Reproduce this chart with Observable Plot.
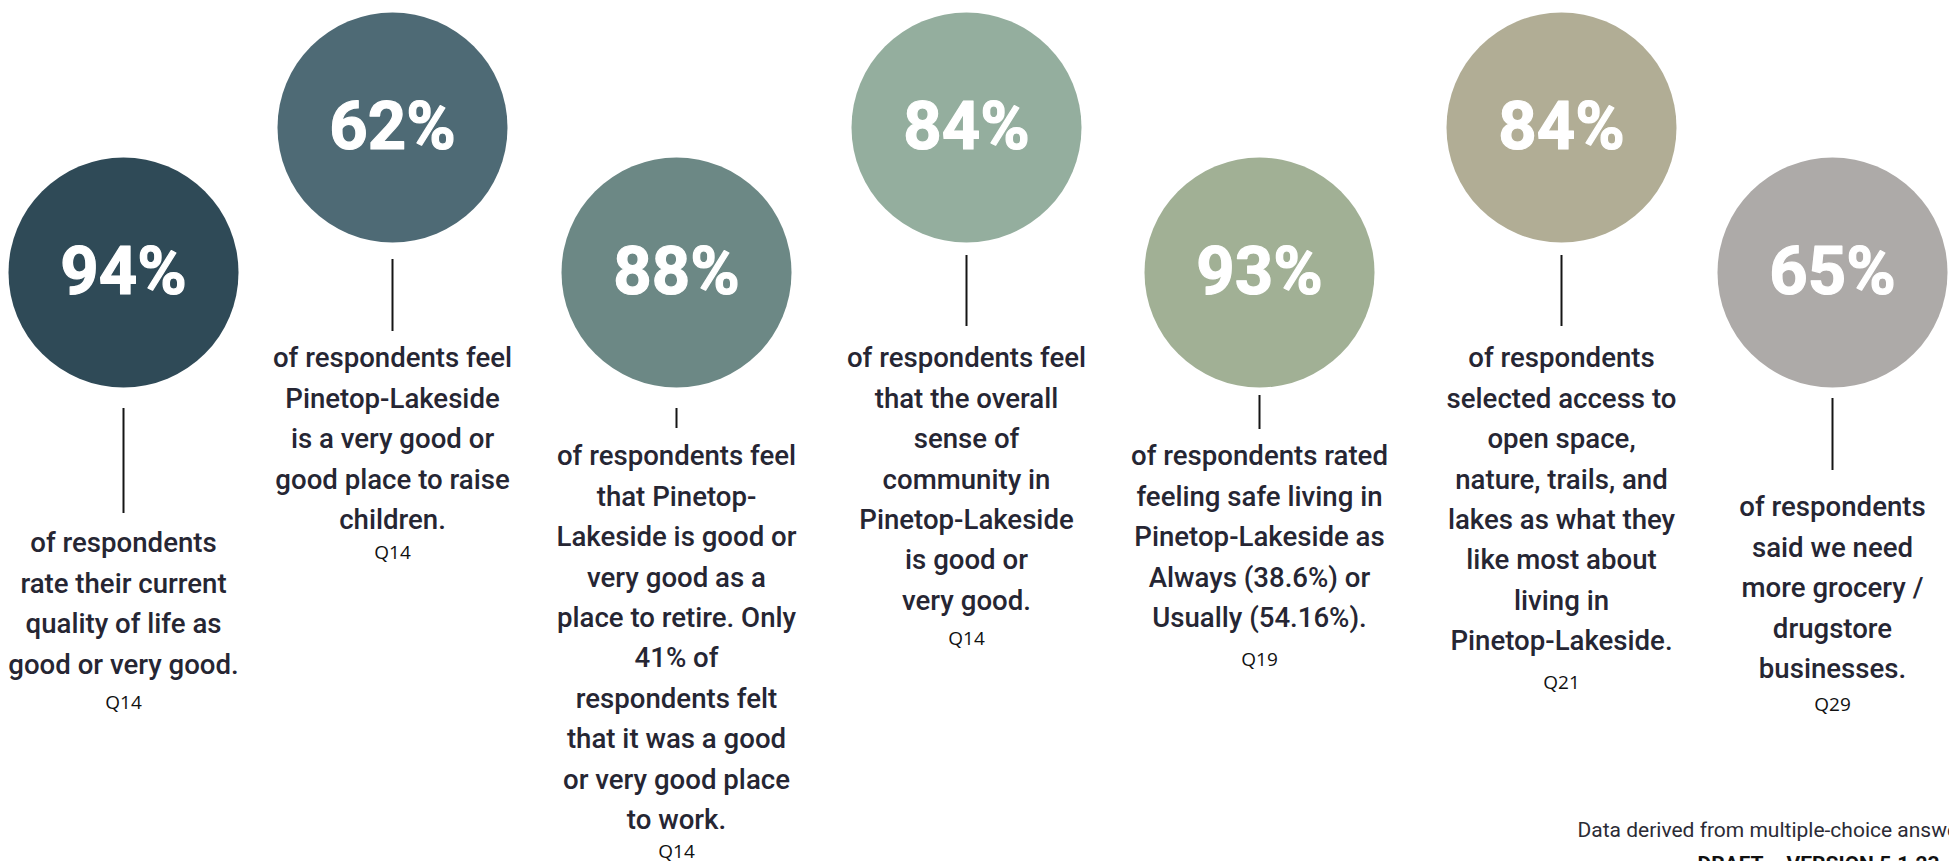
<!DOCTYPE html>
<html>
<head>
<meta charset="utf-8">
<script src="https://cdn.jsdelivr.net/npm/d3@7"></script>
<script src="https://cdn.jsdelivr.net/npm/@observablehq/plot@0.6"></script>
<style>
  html, body { margin: 0; padding: 0; background: #ffffff; overflow: hidden; }
  #chart { position: relative; width: 1949px; height: 861px; overflow: hidden; background: #ffffff; }
  #chart svg { display: block; }
</style>
</head>
<body>
<div id="chart"></div>
<script>
// ---------- DATA ----------
const percents = ["94%", "62%", "88%", "84%", "93%", "84%", "65%"];
const questions = ["Q14", "Q14", "Q14", "Q14", "Q19", "Q21", "Q29"];
const descriptions = [
  ["of respondents", "rate their current", "quality of life as", "good or very good."],
  ["of respondents feel", "Pinetop-Lakeside", "is a very good or", "good place to raise", "children."],
  ["of respondents feel", "that Pinetop-", "Lakeside is good or", "very good as a", "place to retire. Only", "41% of", "respondents felt", "that it was a good", "or very good place", "to work."],
  ["of respondents feel", "that the overall", "sense of", "community in", "Pinetop-Lakeside", "is good or", "very good."],
  ["of respondents rated", "feeling safe living in", "Pinetop-Lakeside as", "Always (38.6%) or", "Usually (54.16%)."],
  ["of respondents", "selected access to", "open space,", "nature, trails, and", "lakes as what they", "like most about", "living in", "Pinetop-Lakeside."],
  ["of respondents", "said we need", "more grocery /", "drugstore", "businesses."]
];
const footnote = "Data derived from multiple-choice answers.";
const draftLabel = "DRAFT \u2013 VERSION 5.1.23";

// ---------- LAYOUT (design placement, separate from data) ----------
const W = 1949, H = 861;
const layout = {
  colX: [123, 392, 676, 966, 1259, 1561, 1832],
  rowY: [272, 127],              // circle centre: low row, high row
  radius: 115,
  stems: [[408, 513], [259, 331], [408, 428], [255, 326], [395, 429], [255, 326], [398, 470]],
  textTop: [543, 358, 456, 358, 456, 358, 507],
  lineStep: 40.4,
  qY: [702, 552, 851, 638, 659, 682, 704],
  footX: 1577, footY: 830, draftX: 1697, draftY: 864
};
const palette = ["#2f4a57", "#4e6a75", "#6c8885", "#94ae9e", "#a1b095", "#b1ad95", "#adaaa8"];

const items = percents.map((p, i) => ({
  pct: p,
  q: questions[i],
  color: palette[i],
  x: layout.colX[i],
  cy: layout.rowY[i % 2],
  s1: layout.stems[i][0],
  s2: layout.stems[i][1],
  qy: layout.qY[i]
}));
const lines = descriptions.flatMap((ls, i) =>
  ls.map((t, k) => ({ text: t, x: layout.colX[i], y: layout.textTop[i] + k * layout.lineStep }))
);
const notes = [
  { text: footnote, x: layout.footX, y: layout.footY },
  { text: draftLabel, x: layout.draftX, y: layout.draftY }
];

const chart = Plot.plot({
  width: W,
  height: H,
  margin: 0,
  x: { type: "linear", domain: [0, W], range: [0, W], axis: null },
  y: { type: "linear", domain: [0, H], range: [0, H], axis: null },
  color: { type: "identity" },
  style: { background: "#ffffff", overflow: "hidden" },
  marks: [
    Plot.dot(items, { x: "x", y: "cy", r: layout.radius, fill: "color", stroke: null }),
    Plot.text(items, {
      x: "x", y: "cy", text: "pct", fill: "#ffffff", stroke: "#ffffff", strokeWidth: 1.2,
      strokeLinejoin: "round",
      fontSize: 67, fontWeight: 700, fontFamily: "Roboto, 'DejaVu Sans', sans-serif",
      textAnchor: "middle", lineAnchor: "middle"
    }),
    Plot.ruleX(items, { x: "x", y1: "s1", y2: "s2", stroke: "#151515", strokeWidth: 2 }),
    Plot.text(lines, {
      x: "x", y: "y", text: "text", fill: "#262633",
      fontSize: 27.6, fontWeight: 500, fontFamily: "Roboto, 'Noto Sans', sans-serif",
      textAnchor: "middle", lineAnchor: "middle"
    }),
    Plot.text(items, {
      x: "x", y: "qy", text: "q", fill: "#111111",
      fontSize: 19, fontWeight: 400, fontFamily: "'Open Sans', sans-serif",
      textAnchor: "middle", lineAnchor: "middle"
    }),
    Plot.text(notes.slice(0, 1), {
      x: "x", y: "y", text: "text", fill: "#2b2b35",
      fontSize: 21, fontWeight: 400, fontFamily: "Roboto, sans-serif",
      textAnchor: "start", lineAnchor: "middle"
    }),
    Plot.text(notes.slice(1), {
      x: "x", y: "y", text: "text", fill: "#111111",
      fontSize: 21, fontWeight: 700, fontFamily: "Roboto, sans-serif",
      textAnchor: "start", lineAnchor: "middle"
    })
  ]
});
document.getElementById("chart").appendChild(chart);
</script>
</body>
</html>
